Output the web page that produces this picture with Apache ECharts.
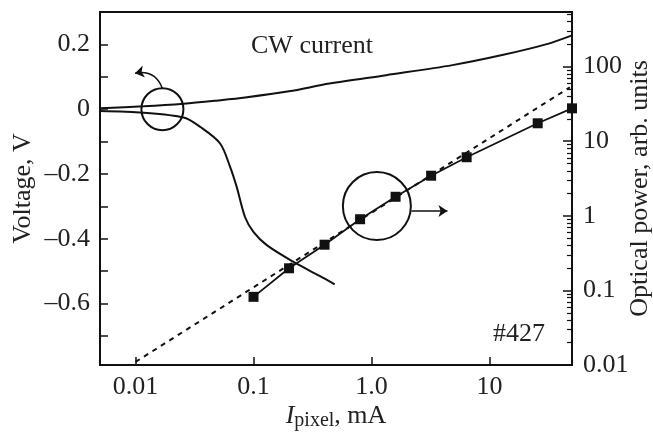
<!DOCTYPE html>
<html>
<head>
<meta charset="utf-8">
<script src="https://cdn.jsdelivr.net/npm/echarts@6/dist/echarts.min.js"></script>
<style>
  html, body { margin: 0; padding: 0; background: #fff; }
  #chart { width: 653px; height: 435px; }
</style>
</head>
<body>
<div id="chart"></div>
<script>
// Pixel current, mA (log axis)
const currentTicks = [0.01, 0.1, 1, 10];
const currentTickLabels = ['0.01', '0.1', '1.0', '10'];

// Voltage axis, V
const voltageTicks = [-0.7, -0.6, -0.5, -0.4, -0.3, -0.2, -0.1, 0, 0.1, 0.2];
const voltageLabels = [-0.6, -0.4, -0.2, 0, 0.2];

// Optical power axis, arb. units (log)
const powerTicks = [0.01, 0.1, 1, 10, 100];
const powerMinorTicks = [
  0.02, 0.03, 0.04, 0.05, 0.06, 0.07, 0.08, 0.09,
  0.2, 0.3, 0.4, 0.5, 0.6, 0.7, 0.8, 0.9,
  2, 3, 4, 5, 6, 7, 8, 9,
  20, 30, 40, 50, 60, 70, 80, 90,
  200, 300, 400, 500
];

// CW current: voltage of the upper branch [I, V]
const voltageUpper = [
  [0.005, 0.003], [0.0117, 0.009], [0.0256, 0.017], [0.05, 0.027],
  [0.085, 0.036], [0.2, 0.055], [0.44, 0.079], [1.33, 0.105],
  [4.85, 0.136], [12.8, 0.167], [30, 0.200], [50, 0.228]
];

// CW current: voltage of the lower branch [I, V]
const voltageLower = [
  [0.005, -0.006], [0.0117, -0.011], [0.0256, -0.026], [0.0354, -0.055],
  [0.0521, -0.106], [0.0633, -0.178], [0.072, -0.240], [0.0847, -0.333],
  [0.0998, -0.379], [0.1295, -0.420], [0.2167, -0.471], [0.3632, -0.515],
  [0.4877, -0.541]
];

// Optical power vs current [I, P]
const opticalPower = [
  [0.1, 0.082], [0.2, 0.198], [0.4, 0.41], [0.8, 0.90], [1.6, 1.80],
  [3.2, 3.45], [6.4, 6.1], [25.6, 17.4], [50, 27.6]
];

// Linear (P ~ I) guide line
const linearGuide = [[0.01, 0.011], [48, 52.8]];

// Markers: circles and arrows, in data units
const voltageCircle = [[0.0169, 0]];
const powerCircle = [[1.11, 1.35]];
const voltageArrow = [[0.0169, 0.064], [0.0099, 0.111]];
const powerArrow = [[2.18, 1.16], [4.4, 1.16]];

const FONT = "'Liberation Serif', 'DejaVu Serif', serif";
const FS = 26;
const INK = '#111';
const TEXT = '#222';

const chart = echarts.init(document.getElementById('chart'), null, { renderer: 'canvas' });

const fmtVoltage = v => {
  const r = Math.round(v * 10) / 10;
  if (r === 0) return '0';
  return (r < 0 ? '\u2013' : '') + Math.abs(r).toFixed(1);
};

const option = {
  backgroundColor: '#fff',
  animation: false,
  textStyle: { fontFamily: FONT },
  grid: {
    left: 100, right: 81, top: 12, bottom: 70,
    outerBoundsMode: 'none', containLabel: false,
    show: true, borderColor: INK, borderWidth: 2, backgroundColor: 'transparent'
  },
  xAxis: {
    type: 'log', logBase: 10, min: 0.005, max: 50,
    name: '{i|I}{s|pixel}{n|, mA}',
    nameLocation: 'middle', nameGap: 38, nameMoveOverlap: false,
    nameTextStyle: {
      rich: {
        i: { fontFamily: FONT, fontSize: FS, fontStyle: 'italic', color: TEXT, lineHeight: 26, verticalAlign: 'top' },
        s: { fontFamily: FONT, fontSize: 20, color: TEXT, lineHeight: 28, verticalAlign: 'bottom' },
        n: { fontFamily: FONT, fontSize: FS, color: TEXT, lineHeight: 26, verticalAlign: 'top' }
      }
    },
    axisLine: { show: true, onZero: false, lineStyle: { color: INK, width: 2 } },
    axisTick: { show: true, inside: true, length: 8, customValues: currentTicks, lineStyle: { color: INK, width: 1.5 } },
    axisLabel: {
      show: true, margin: 9, fontSize: FS, fontFamily: FONT, color: TEXT,
      customValues: currentTicks,
      formatter: v => {
        const i = currentTicks.findIndex(t => Math.abs(Math.log10(t) - Math.log10(v)) < 1e-6);
        return i >= 0 ? currentTickLabels[i] : '';
      }
    },
    minorTick: { show: false },
    splitLine: { show: false }
  },
  yAxis: [
    {
      type: 'value', min: -0.79, max: 0.3, position: 'left',
      name: 'Voltage, V', nameLocation: 'middle', nameGap: 64, nameRotate: 90, nameMoveOverlap: false,
      nameTextStyle: { fontFamily: FONT, fontSize: FS, color: TEXT },
      axisLine: { show: true, onZero: false, lineStyle: { color: INK, width: 2 } },
      axisTick: { show: true, inside: true, length: 8, customValues: voltageTicks, lineStyle: { color: INK, width: 1.5 } },
      axisLabel: {
        show: true, margin: 10, fontSize: FS, fontFamily: FONT, color: TEXT,
        customValues: voltageLabels, formatter: fmtVoltage
      },
      splitLine: { show: false }
    },
    {
      type: 'log', logBase: 10, min: 0.01, max: 540, position: 'right',
      name: 'Optical power, arb. units', nameLocation: 'middle', nameGap: 55, nameRotate: 90, nameMoveOverlap: false,
      nameTextStyle: { fontFamily: FONT, fontSize: FS, color: TEXT },
      axisLine: { show: true, onZero: false, lineStyle: { color: INK, width: 2 } },
      axisTick: { show: true, inside: true, length: 9, customValues: powerTicks, lineStyle: { color: INK, width: 1.5 } },
      axisLabel: {
        show: true, margin: 11, fontSize: FS, fontFamily: FONT, color: TEXT,
        customValues: powerTicks,
        formatter: v => {
          const i = powerTicks.findIndex(t => Math.abs(Math.log10(t) - Math.log10(v)) < 1e-6);
          return i >= 0 ? String(powerTicks[i]) : '';
        }
      },
      splitLine: { show: false }
    },
    {
      // minor ticks of the optical power scale
      type: 'log', logBase: 10, min: 0.01, max: 540, position: 'right',
      axisLine: { show: false },
      axisTick: { show: true, inside: true, length: 5, customValues: powerMinorTicks, lineStyle: { color: INK, width: 1.2 } },
      axisLabel: { show: false },
      splitLine: { show: false }
    }
  ],
  graphic: [
    {
      type: 'text', x: 312, y: 46,
      style: { text: 'CW current', font: FS + 'px ' + FONT, fill: TEXT, textAlign: 'center', textVerticalAlign: 'middle' }
    },
    {
      type: 'text', x: 545, y: 334,
      style: { text: '#427', font: FS + 'px ' + FONT, fill: TEXT, textAlign: 'right', textVerticalAlign: 'middle' }
    }
  ],
  series: [
    {
      name: 'Voltage upper', type: 'line', yAxisIndex: 0, data: voltageUpper,
      smooth: 0.3, showSymbol: false, symbol: 'none',
      lineStyle: { color: INK, width: 2 }
    },
    {
      name: 'Voltage lower', type: 'line', yAxisIndex: 0, data: voltageLower,
      smooth: 0.3, showSymbol: false, symbol: 'none',
      lineStyle: { color: INK, width: 2 }
    },
    {
      name: 'Linear guide', type: 'line', yAxisIndex: 1, data: linearGuide,
      symbol: 'none',
      lineStyle: { color: INK, width: 2, type: [5, 5] }
    },
    {
      name: 'Optical power', type: 'line', yAxisIndex: 1, data: opticalPower,
      symbol: 'rect', symbolSize: 10, showAllSymbol: true,
      itemStyle: { color: INK },
      lineStyle: { color: INK, width: 1.8 }
    },
    {
      name: 'Voltage marker', type: 'scatter', yAxisIndex: 0, data: voltageCircle,
      symbol: 'circle', symbolSize: 42, silent: true,
      itemStyle: { color: 'transparent', borderColor: INK, borderWidth: 2, opacity: 1 }
    },
    {
      name: 'Power marker', type: 'scatter', yAxisIndex: 1, data: powerCircle,
      symbol: 'circle', symbolSize: 68, silent: true,
      itemStyle: { color: 'transparent', borderColor: INK, borderWidth: 2, opacity: 1 }
    },
    {
      name: 'Voltage arrow', type: 'lines', coordinateSystem: 'cartesian2d',
      xAxisIndex: 0, yAxisIndex: 0, silent: true,
      symbol: ['none', 'arrow'], symbolSize: 9,
      lineStyle: { color: INK, width: 1.5, curveness: -0.42, opacity: 1 },
      data: [{ coords: voltageArrow }]
    },
    {
      name: 'Power arrow', type: 'lines', coordinateSystem: 'cartesian2d',
      xAxisIndex: 0, yAxisIndex: 1, silent: true,
      symbol: ['none', 'arrow'], symbolSize: 9,
      lineStyle: { color: INK, width: 1.5, curveness: 0, opacity: 1 },
      data: [{ coords: powerArrow }]
    }
  ]
};

chart.setOption(option);
</script>
</body>
</html>
